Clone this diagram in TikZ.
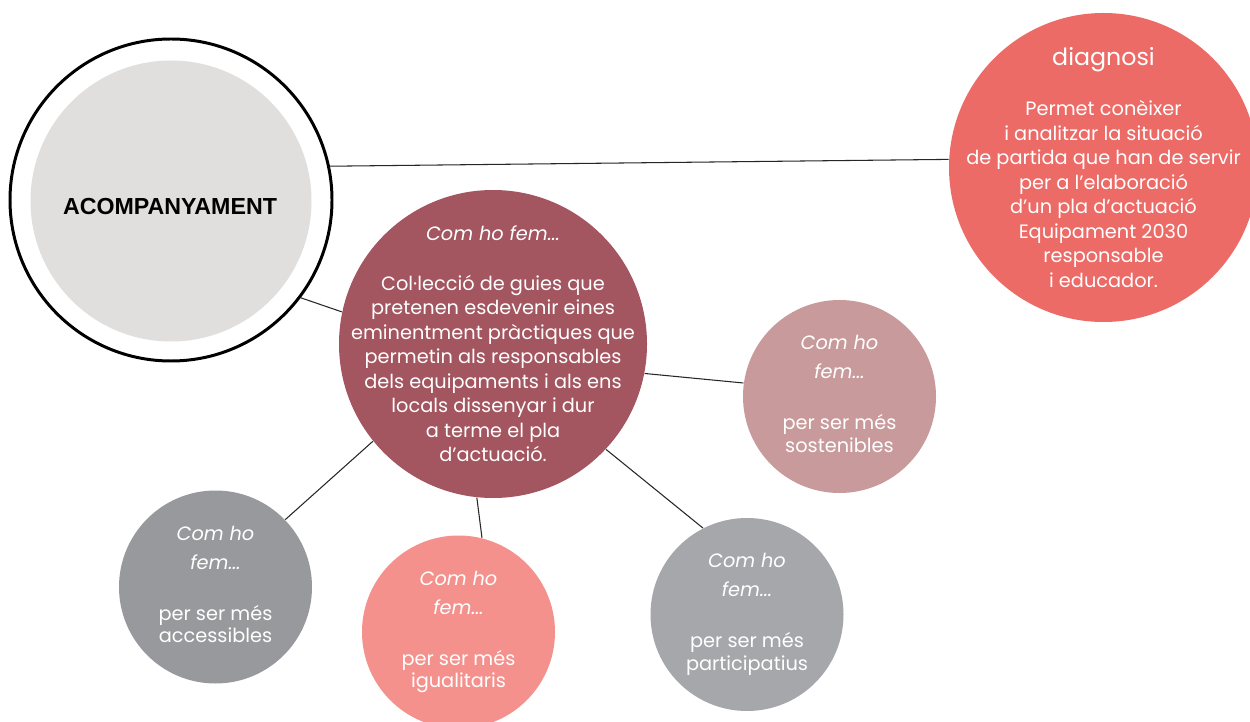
\documentclass[tikz,border=0pt]{standalone}
\usepackage{fontspec}
\setmainfont{Poppins}
\newfontfamily\headfont{Liberation Sans}
\definecolor{discgray}{HTML}{E0DFDE}
\definecolor{diagred}{HTML}{EC6B67}
\definecolor{guiesred}{HTML}{A35560}
\definecolor{sostpink}{HTML}{C99A9C}
\definecolor{accgray}{HTML}{97999C}
\definecolor{igualpink}{HTML}{F4918D}
\definecolor{partgray}{HTML}{A5A7AA}
\tikzset{
every picture/.style={line width=0.6pt},
bubble/.style={circle, inner sep=0pt},
bubbletext/.style={inner sep=0pt, text=white, align=center,
  font=\fontsize{11}{13.95}\selectfont},
smallbubble/.style={bubble, minimum size=3.86cm},
smalltext/.style={bubbletext, text depth=3pt, font=\fontsize{11}{13}\selectfont},
link/.style={draw=black!85, line width=0.6pt}
}

\begin{document}
\begin{tikzpicture}
  \clip (0,0) rectangle (25,-14.44);
  \fill[white] (0,0) rectangle (25,-14.44);
  % main ring
  \node[circle, draw, line width=1.7pt, minimum size=6.44cm] (acomp) at (3.42,-4.0) {};
  \node[circle, fill=discgray, minimum size=5.62cm] (disc) at (3.42,-4.02) {};
  \node[font=\headfont\bfseries\fontsize{13.2}{15}\selectfont] (acomplabel) at (3.40,-4.13) {ACOMPANYAMENT};
  % bubbles
  \node[bubble, fill=diagred, minimum size=6.18cm] (diag) at (22.07,-3.35) {};
  \node[bubbletext] (diagtext) at (diag)
    {{\fontsize{13.5}{14}\selectfont diagnosi}\\[14.5pt]
     Permet conèixer\\ i analitzar la situació\\ de partida que han de servir\\
     per a l’elaboració\\ d’un pla d’actuació\\ Equipament 2030\\ responsable\\ i educador.};
  \node[bubble, fill=guiesred, minimum size=6.16cm] (guies) at (9.86,-6.88) {};
  \node[bubbletext] (guiestext) at (guies)
    {{\itshape Com ho fem...}\\[14pt]
     Col·lecció de guies que\\ pretenen esdevenir eines\\ eminentment pràctiques que\\
     permetin als responsables\\ dels equipaments i als ens\\ locals dissenyar i dur\\
     a terme el pla\\ d’actuació.};
  \node[smallbubble, fill=sostpink] (sost) at (16.79,-7.93) {};
  \node[smalltext] (sosttext) at (sost)
    {{\itshape Com ho}\\[3.5pt] {\itshape fem...}\\[16pt] per ser més\\ sostenibles};
  \node[smallbubble, fill=accgray] (acc) at (4.31,-11.74) {};
  \node[smalltext] (acctext) at (acc)
    {{\itshape Com ho}\\[3.5pt] {\itshape fem...}\\[16pt] per ser més\\ accessibles};
  \node[smallbubble, fill=igualpink] (igual) at (9.17,-12.64) {};
  \node[smalltext] (igualtext) at (igual)
    {{\itshape Com ho}\\[3.5pt] {\itshape fem...}\\[16pt] per ser més\\ igualitaris};
  \node[smallbubble, fill=partgray] (part) at (14.94,-12.29) {};
  \node[smalltext] (parttext) at (part)
    {{\itshape Com ho}\\[3.5pt] {\itshape fem...}\\[16pt] per ser més\\ participatius};
  % links
  \draw[link] (acomp.12.8) -- (diag.177.6);
  \draw[link] (acomp.-37) -- (guies.168.4);
  \draw[link] (guies.-11.9) -- (sost.172.6);
  \draw[link] (guies.219.7) -- (acc.44);
  \draw[link] (guies.264) -- (igual.76);
  \draw[link] (guies.-43.4) -- (part.117);
\end{tikzpicture}
\end{document}
